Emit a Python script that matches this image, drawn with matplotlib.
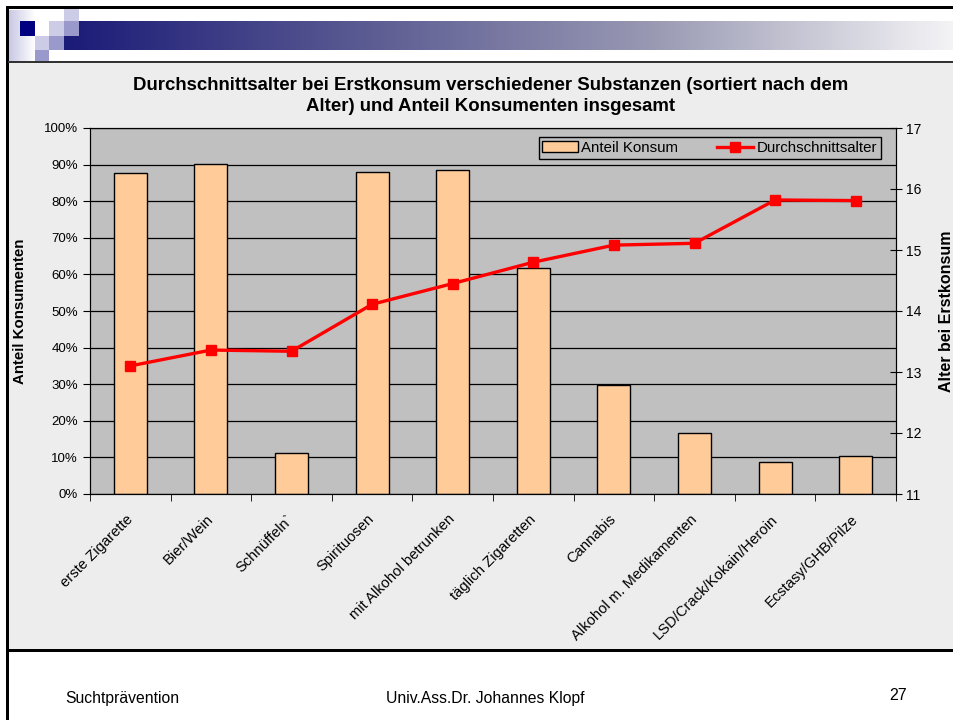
import numpy as np
import matplotlib
matplotlib.use("Agg")
import matplotlib.pyplot as plt
from matplotlib.patches import Rectangle
from matplotlib.colors import LinearSegmentedColormap

plt.rcParams['font.family'] = ['Liberation Sans', 'DejaVu Sans']

# data
categories = ['erste Zigarette', 'Bier/Wein', 'Schnüffeln`', 'Spirituosen',
              'mit Alkohol betrunken', 'täglich Zigaretten', 'Cannabis',
              'Alkohol m. Medikamenten', 'LSD/Crack/Kokain/Heroin', 'Ecstasy/GHB/Pilze']
anteil = [0.876, 0.903, 0.113, 0.880, 0.884, 0.617, 0.298, 0.167, 0.087, 0.104]
alter = [13.10, 13.36, 13.34, 14.11, 14.45, 14.80, 15.08, 15.11, 15.82, 15.81]
left_ticks = [0, 0.1, 0.2, 0.3, 0.4, 0.5, 0.6, 0.7, 0.8, 0.9, 1.0]
left_ticklabels = ['0%', '10%', '20%', '30%', '40%', '50%', '60%', '70%', '80%', '90%', '100%']
right_ticks = [11, 12, 13, 14, 15, 16, 17]

W, H = 954, 720
fig = plt.figure(figsize=(W / 100, H / 100), dpi=100)
fig.patch.set_facecolor('white')


def rect(x0, y0, x1, y1, **kw):
    # pixel box (top-left origin) -> figure fraction rectangle
    r = Rectangle((x0 / W, 1 - y1 / H), (x1 - x0) / W, (y1 - y0) / H,
                  transform=fig.transFigure, lw=0, **kw)
    fig.add_artist(r)
    return r


# chart area background
rect(8, 62, W, 650, color='#EDEDED', zorder=0)

# header gradient bar
gax = fig.add_axes([64 / W, 1 - 50 / H, (W - 64) / W, 29 / H], zorder=1)
cmap = LinearSegmentedColormap.from_list('hdr', ['#1B1B78', '#5A5A92', '#9A9AB4', '#F4F4F6'])
gax.imshow(np.linspace(0, 1, 256)[None, :], aspect='auto', cmap=cmap)
gax.set_axis_off()

lax = fig.add_axes([9 / W, 1 - 62 / H, 26 / W, 52 / H], zorder=1)
lcmap = LinearSegmentedColormap.from_list('lft', ['#C8C8E4', '#FFFFFF'])
lax.imshow(np.linspace(0, 1, 64)[None, :], aspect='auto', cmap=lcmap)
lax.set_axis_off()

light, mid = '#CCCCE6', '#9999CC'
rect(20, 21, 35, 36, color='#000080', zorder=2)
rect(64, 8, 79, 21, color=light, zorder=2)
rect(49, 21, 64, 36, color=light, zorder=2)
rect(64, 21, 79, 36, color=mid, zorder=2)
rect(35, 36, 49, 50, color=light, zorder=2)
rect(49, 36, 64, 50, color=mid, zorder=2)
rect(35, 50, 49, 62, color=mid, zorder=2)

# frame lines
rect(7, 6, W, 9, color='black', zorder=3)
rect(6, 6, 9, H, color='black', zorder=3)
rect(8, 61, W, 63, color='#333333', zorder=3)
rect(8, 649, W, 652, color='black', zorder=3)

# main chart
ax = fig.add_axes([90 / W, 1 - 494 / H, (896 - 90) / W, (494 - 128) / H], zorder=4)
ax.set_facecolor('#C0C0C0')
x = np.arange(len(categories))
bars = ax.bar(x, anteil, width=0.41, color='#FFCC99', edgecolor='black', linewidth=1,
              label='Anteil Konsum', zorder=2)
ax.set_xlim(-0.5, len(categories) - 0.5)
ax.set_ylim(0, 1)
ax.set_yticks(left_ticks)
ax.set_yticklabels(left_ticklabels, fontsize=9.5)
ax.grid(axis='y', color='black', linewidth=0.9)
ax.set_axisbelow(True)
ax.set_xticks(x - 0.06)
ax.set_xticklabels(categories, rotation=45, ha='right', va='top',
                   rotation_mode='anchor', fontsize=10.6)
ax.tick_params(axis='x', which='major', length=0, pad=13)
ax.set_xticks(np.arange(-0.5, len(categories), 1), minor=True)
ax.tick_params(axis='x', which='minor', length=5, direction='out')
ax.tick_params(axis='y', length=5, direction='out')
for s in ax.spines.values():
    s.set_color('#222222')
ax.set_ylabel('Anteil Konsumenten', fontsize=10.8, fontweight='bold')
ax.yaxis.set_label_coords(-0.078, 0.5)

ax2 = ax.twinx()
line, = ax2.plot(x, alter, color='#FF0000', linewidth=2.4, marker='s',
                 markersize=7, label='Durchschnittsalter', zorder=3)
ax2.set_ylim(11, 17)
ax2.set_yticks(right_ticks)
ax2.set_yticklabels([str(t) for t in right_ticks], fontsize=10)
ax2.tick_params(axis='y', length=8, direction='inout')
ax2.set_ylabel('Alter bei Erstkonsum', fontsize=11.5, fontweight='bold', rotation=90)
ax2.yaxis.set_label_coords(1.053, 0.5)

leg = ax2.legend([bars, line], ['Anteil Konsum', 'Durchschnittsalter'], ncol=2,
                 loc='upper right', bbox_to_anchor=(0.992, 1.0), fontsize=10.8,
                 frameon=True, fancybox=False, framealpha=1, edgecolor='black',
                 facecolor='#C0C0C0', borderpad=0.25, columnspacing=2.6,
                 handlelength=2.4, handletextpad=0.2, borderaxespad=0.6)
leg.get_frame().set_linewidth(1)

fig.text(491 / W, 1 - 96 / H,
         'Durchschnittsalter bei Erstkonsum verschiedener Substanzen (sortiert nach dem\n'
         'Alter) und Anteil Konsumenten insgesamt',
         ha='center', va='center', fontsize=13.4, fontweight='bold', linespacing=1.3)

# footer
fig.text(65 / W, 1 - 698 / H, 'Suchtprävention', fontsize=11.3, va='center')
fig.text(485 / W, 1 - 698 / H, 'Univ.Ass.Dr. Johannes Klopf', fontsize=11.3,
         va='center', ha='center')
fig.text(898 / W, 1 - 696 / H, '27', fontsize=11.5, va='center', ha='center')

fig.savefig('out.png', dpi=100)
